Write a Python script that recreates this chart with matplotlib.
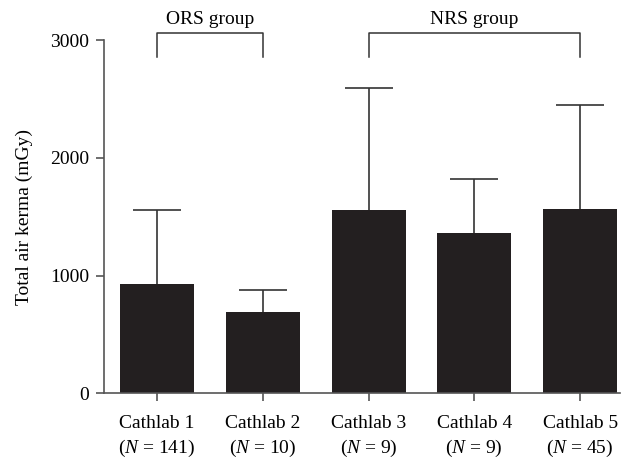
import matplotlib
matplotlib.use("Agg")
import matplotlib.pyplot as plt

plt.rcParams['font.family'] = ['Liberation Serif', 'DejaVu Serif']
plt.rcParams['mathtext.fontset'] = 'custom'
plt.rcParams['mathtext.rm'] = 'Liberation Serif'
plt.rcParams['mathtext.it'] = 'Liberation Serif:italic'

labs = ["Cathlab 1", "Cathlab 2", "Cathlab 3", "Cathlab 4", "Cathlab 5"]
ns = [141, 10, 9, 9, 45]
means = [925, 690, 1560, 1365, 1565]
upper = [1560, 880, 2590, 1820, 2450]
errs = [u - m for u, m in zip(upper, means)]

fig = plt.figure(figsize=(6.24, 4.62), dpi=100)
ax = fig.add_axes([0.167, 0.149, 0.827, 0.764])

x = list(range(len(labs)))
ax.bar(x, means, width=0.7, color='#231f20', zorder=2)
eb = ax.errorbar(x, means, yerr=[[0] * 5, errs], fmt='none', ecolor='#333333',
                 elinewidth=1.2, capsize=17, capthick=1.2, zorder=1)
eb[1][0].set_visible(False)  # no lower cap

ax.set_xlim(-0.5, 4.38)
ax.set_ylim(0, 3000)
ax.set_yticks([0, 1000, 2000, 3000])
ax.set_xticks(x)
ax.set_xticklabels([f"{l}\n($\\mathit{{N}}$ = {n})" for l, n in zip(labs, ns)],
                   linespacing=1.35)
ax.tick_params(axis='both', labelsize=14, color='#555555', length=6, width=1.2)
ax.tick_params(axis='x', pad=10)
ax.tick_params(axis='y', pad=5)
for s in ['top', 'right']:
    ax.spines[s].set_visible(False)
for s in ['left', 'bottom']:
    ax.spines[s].set_color('#555555')
    ax.spines[s].set_linewidth(1.2)
ax.set_ylabel("Total air kerma (mGy)", fontsize=14, labelpad=12)

# group brackets
for a, b, name in [(0, 1, "ORS group"), (2, 4, "NRS group")]:
    ax.plot([a, a, b, b], [2855, 3065, 3065, 2855], color='#333333', lw=1.1, clip_on=False)
    ax.text((a + b) / 2, 3105, name, ha='center', va='bottom', fontsize=14, clip_on=False)

fig.savefig("out.png", dpi=100)
